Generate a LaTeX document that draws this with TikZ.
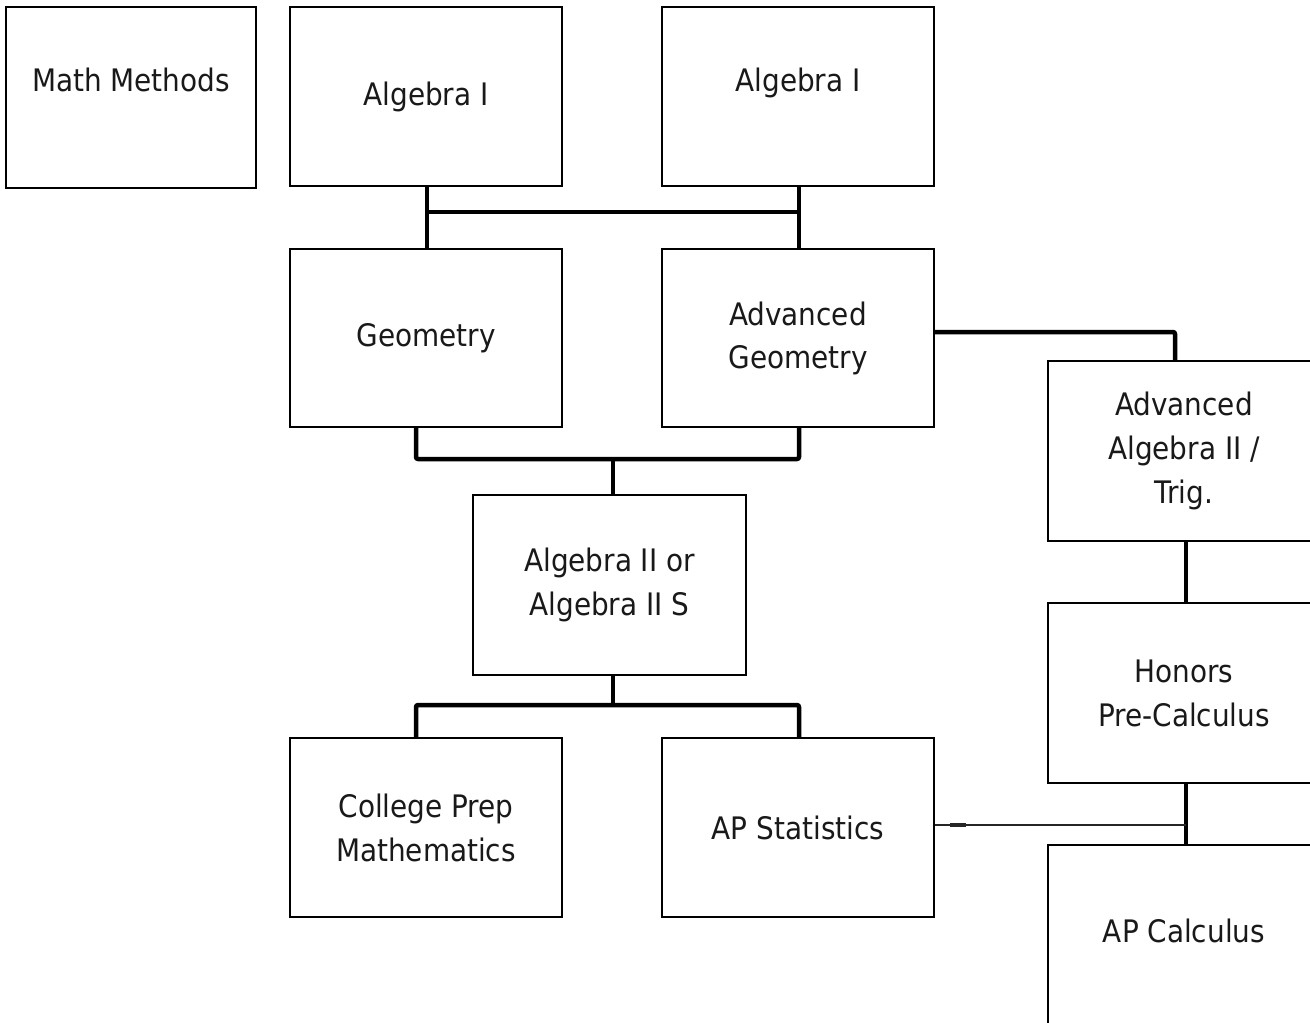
\documentclass[tikz,border=0pt]{standalone}
\usepackage{fontspec}
\setmainfont{DejaVu Sans Condensed}
\begin{document}
\begin{tikzpicture}[x=1pt,y=-1pt,
  box/.style={draw=black,line width=2pt,minimum width=272pt,minimum height=179pt,
    inner sep=0pt,align=center,text=black!90,font=\fontsize{31}{44}\selectfont},
  conn/.style={line width=4.5pt,line join=round,rounded corners=2pt},
  thin/.style={line width=1.6pt,draw=black!85}]
\useasboundingbox (0,0) rectangle (1310,1023);
\clip (0,0) rectangle (1310,1023);
\fill[white] (0,0) rectangle (1310,1023);

\node[box,minimum width=250pt,minimum height=181pt,
  label={[name=mmlabel,font=\fontsize{31}{44}\selectfont,text=black!90,yshift=18pt]center:Math Methods}] (mm) at (131,97.5) {};
\node[box] (a1) at (426,96.5) {Algebra I};
\node[box,label={[name=a1blabel,font=\fontsize{31}{44}\selectfont,text=black!90,yshift=14pt]center:Algebra I}] (a1b) at (798,96.5) {};
\node[box,minimum height=178pt] (geo) at (426,338) {Geometry};
\node[box,minimum height=178pt] (ageo) at (798,338) {Advanced\\[-1pt]Geometry};
\node[box,minimum width=273pt,minimum height=180pt] (a2) at (609.5,585) {Algebra II or\\Algebra II S};
\node[box] (cp) at (426,827.5) {College Prep\\Mathematics};
\node[box] (aps) at (798,827.5) {AP Statistics};
\node[box,minimum height=180pt] (aa2) at (1184,451) {Advanced\\Algebra II /\\Trig.};
\node[box,minimum height=180pt] (hpc) at (1184,693) {Honors\\Pre-Calculus};
\node[box,minimum height=180pt,label={[name=apclabel,font=\fontsize{31}{44}\selectfont,text=black!90,yshift=4pt]center:AP Calculus}] (apc) at (1184,935) {};

% Algebra I -> Geometry / Advanced Geometry
\draw[conn] ([xshift=1pt]a1.south) -- ([xshift=1pt]geo.north);
\draw[conn] ([xshift=1pt]a1b.south) -- ([xshift=1pt]ageo.north);
\draw[conn] ([xshift=1pt]a1.south |- 0,212) -- ([xshift=1pt]a1b.south |- 0,212);

% Geometry / Advanced Geometry -> Algebra II
\draw[conn] ([xshift=-10pt]geo.south) |- ([xshift=3.5pt]a2.north |- 0,459) -| ([xshift=1pt]ageo.south);
\draw[conn] ([xshift=3.5pt]a2.north) -- ([xshift=3.5pt]a2.north |- 0,459);

% Algebra II -> College Prep / AP Statistics
\draw[conn] ([xshift=3.5pt]a2.south) -- ([xshift=3.5pt]a2.south |- 0,705);
\draw[conn] ([xshift=-10pt]cp.north) |- ([xshift=3.5pt]a2.south |- 0,705) -| ([xshift=1pt]aps.north);

% Advanced Geometry -> Advanced Algebra II / Trig.
\draw[conn] ([yshift=6pt]ageo.east) -| ([xshift=-9pt]aa2.north);

% right column
\draw[conn] ([xshift=2pt]aa2.south) -- ([xshift=2pt]hpc.north);
\draw[conn] ([xshift=2pt]hpc.south) -- ([xshift=2pt]apc.north);

% thin link to AP Statistics
\coordinate (tj) at (1186,825);
\draw[thin] (tj) -- (aps.east |- tj);
\draw[line width=3.5pt,draw=black!85] (950,825) -- (966,825);
\end{tikzpicture}
\end{document}
